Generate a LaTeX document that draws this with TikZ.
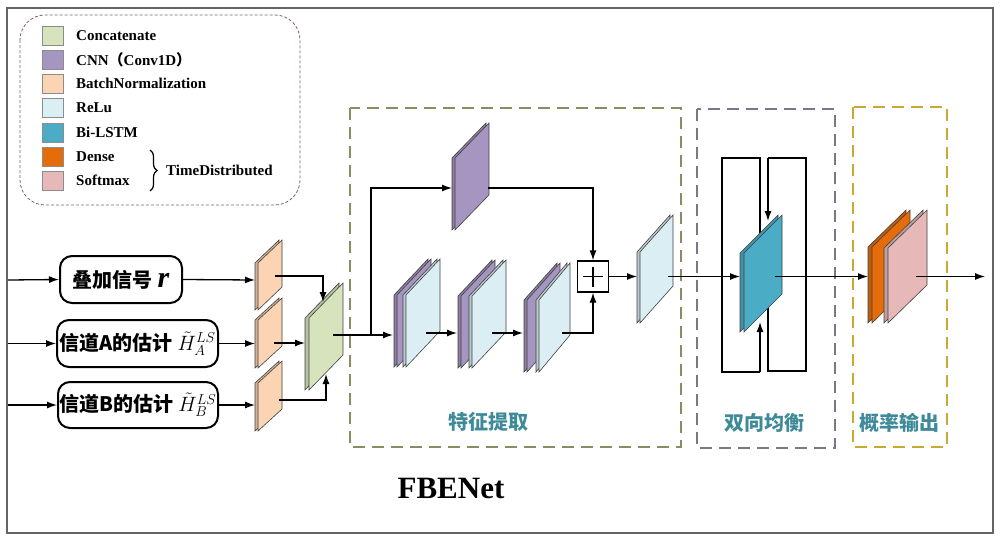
\documentclass[tikz,border=0pt]{standalone}
\usepackage{fontspec}
\setmainfont{Liberation Serif}
\newfontfamily\cjk{Noto Sans CJK SC}
\usetikzlibrary{arrows.meta,decorations.pathreplacing}
\definecolor{cConcat}{RGB}{214,227,188}
\definecolor{cCNN}{RGB}{165,149,192}
\definecolor{cBN}{RGB}{251,212,180}
\definecolor{cRelu}{RGB}{219,238,244}
\definecolor{cLstm}{RGB}{75,172,198}
\definecolor{cDense}{RGB}{228,108,10}
\definecolor{cSoft}{RGB}{230,185,184}
\definecolor{cFrame}{RGB}{100,100,100}
\definecolor{cLegend}{RGB}{130,95,110}
\definecolor{cFeat}{RGB}{140,140,100}
\definecolor{cBi}{RGB}{120,120,140}
\definecolor{cProb}{RGB}{200,170,50}
\definecolor{cLabel}{RGB}{62,138,152}
\newcommand{\plate}[8]{%
  \filldraw[fill=#8!85!black,draw=black!75,line width=0.6pt]
    ({#2-#7},{#3}) -- ({#2-#7+#4},{#3-#6}) -- ({#2-#7+#4},{#3+#5-#6}) -- ({#2-#7},{#3+#5}) -- cycle;
  \filldraw[fill=#8,draw=black!75,line width=0.6pt]
    ({#2},{#3}) -- ({#2+#4},{#3-#6}) -- ({#2+#4},{#3+#5-#6}) -- ({#2},{#3+#5}) -- cycle;
  \coordinate (#1) at ({#2+#4/2},{#3+#5/2-#6/2});
}
\begin{document}
\begin{tikzpicture}[x=1pt,y=-1pt,
  arr/.style={line width=1.3pt,-{Latex[length=10pt,width=7pt]}},
  inbox/.style={draw,line width=2pt,rounded corners=12pt,inner sep=1pt,font=\fontsize{20}{24}\selectfont},
  legsq/.style={draw=black!45,line width=0.6pt,minimum width=21pt,minimum height=19pt,inner sep=0pt},
  legtxt/.style={anchor=west,inner sep=0pt,font=\fontsize{15}{18}\selectfont\bfseries},
  region/.style={dash pattern=on 12pt off 7pt,line width=1.6pt},
  rlabel/.style={text=cLabel,font=\fontsize{20}{24}\selectfont\cjk\bfseries}]
\useasboundingbox (0,0) rectangle (1000,541);
% outer frame
\draw[cFrame,line width=2pt] (7,8) rectangle (993,533);
% legend
\draw[cLegend,dash pattern=on 3pt off 2pt,line width=0.8pt,rounded corners=25pt] (20,15) rectangle (300,205);
\node[legsq,fill=cConcat] (l1) at (52.5,35.5) {};
\node[legsq,fill=cCNN] (l2) at (52.5,59.5) {};
\node[legsq,fill=cBN] (l3) at (52.5,83.5) {};
\node[legsq,fill=cRelu] (l4) at (52.5,108) {};
\node[legsq,fill=cLstm] (l5) at (52.5,132.5) {};
\node[legsq,fill=cDense] (l6) at (52.5,156.5) {};
\node[legsq,fill=cSoft] (l7) at (52.5,180.5) {};
\node[legtxt] (t1) at (76,35.5) {Concatenate};
\node[legtxt] (t2) at (76,59.5) {CNN{\cjk （}Conv1D{\cjk ）}};
\node[legtxt] (t3) at (76,83.5) {BatchNormalization};
\node[legtxt] (t4) at (76,108) {ReLu};
\node[legtxt] (t5) at (76,132.5) {Bi-LSTM};
\node[legtxt] (t6) at (76,156.5) {Dense};
\node[legtxt] (t7) at (76,180.5) {Softmax};
\coordinate (brA) at (150,150);
\coordinate (brB) at (150,191);
\draw[line width=1.2pt,decorate,decoration={brace,amplitude=7pt}] (brA) -- (brB);
\node[legtxt] (t8) at (166,170) {TimeDistributed};
% region boxes
\draw[region,cFeat] (350,108) rectangle (681,447);
\draw[region,cBi] (697,109) rectangle (835,448);
\draw[region,cProb] (853,107) rectangle (947,447);
\node[rlabel] (lab1) at (488,422) {特征提取};
\node[rlabel] (lab2) at (764,423) {双向均衡};
\node[rlabel] (lab3) at (899,423) {概率输出};
% input boxes
\node[inbox,minimum width=122pt,minimum height=47pt] (box1) at (121,279.5)
  {{\cjk\bfseries 叠加信号} {\fontsize{30}{30}\selectfont\bfseries\itshape r}};
\node[inbox,minimum width=161pt,minimum height=47pt] (box2) at (137.5,343.5)
  {{\cjk\bfseries 信道A的估计} $\tilde{H}_{A}^{LS}$};
\node[inbox,minimum width=160pt,minimum height=46pt] (box3) at (138,405)
  {{\cjk\bfseries 信道B的估计} $\tilde{H}_{B}^{LS}$};
\coordinate (in1) at (8,280);
\coordinate (in2) at (8,343.5);
\coordinate (in3) at (8,405);
\draw[arr] (in1) -- (box1.west);
\draw[arr] (in2) -- (box2.west);
\draw[arr] (in3) -- (box3.west);
% BN plates
\plate{bn1}{258}{263}{24}{47}{23}{3}{cBN}
\plate{bn2}{258}{320}{24}{48}{22}{3}{cBN}
\plate{bn3}{258}{383}{24}{48}{22}{3}{cBN}
\coordinate (bn1w) at (255,280);
\coordinate (bn2w) at (255,343.5);
\coordinate (bn3w) at (255,405);
\draw[arr] (box1.east) -- (bn1w);
\draw[arr] (box2.east) -- (bn2w);
\draw[arr] (box3.east) -- (bn3w);
% concatenate
\plate{cc}{309}{318}{34}{72}{35}{4}{cConcat}
\coordinate (bn1o) at (275,276);
\coordinate (bn2o) at (274,343);
\coordinate (bn3o) at (279,400);
\coordinate (cct) at (323,302);
\coordinate (ccw) at (305,343);
\coordinate (ccb) at (326,374);
\draw[arr] (bn1o) -| (cct);
\draw[arr] (bn2o) -- (ccw);
\draw[arr] (bn3o) -| (ccb);
% feature extraction plates
\plate{tp}{455}{158}{34}{72}{35}{3}{cCNN}
\plate{g1a}{397}{295}{34}{72}{36}{3}{cCNN}
\plate{g1}{406}{295}{34}{72}{36}{3}{cRelu}
\plate{g2a}{461}{296}{34}{72}{36}{3}{cCNN}
\plate{g2}{472}{296}{34}{72}{36}{3}{cRelu}
\plate{g3a}{527}{300}{33}{72}{37}{3}{cCNN}
\plate{g3}{539}{300}{31}{72}{37}{3}{cRelu}
\node[draw,line width=1.3pt,minimum size=31pt,inner sep=0pt,fill=white] (plus) at (593,276.5) {};
\draw[line width=1.6pt] ([xshift=-10pt]plus.center) -- ([xshift=10pt]plus.center);
\draw[line width=1.6pt] ([yshift=-10pt]plus.center) -- ([yshift=10pt]plus.center);
\plate{lb}{640}{252}{33}{71}{37}{3}{cRelu}
\coordinate (cco) at (333,335);
\coordinate (g1w) at (393,335);
\coordinate (brp) at (371,335);
\coordinate (tpw) at (452,188);
\coordinate (tpo) at (488,188);
\coordinate (g1o) at (426,333);
\coordinate (g2w) at (457,333);
\coordinate (g2o) at (492,333);
\coordinate (g3w) at (523,333);
\coordinate (g3o) at (562,333);
\coordinate (lbw) at (637,276.5);
\draw[arr] (cco) -- (g1w);
\draw[arr] (brp) |- (tpw);
\draw[arr] (tpo) -| (plus.north);
\draw[arr] (g1o) -- (g2w);
\draw[arr] (g2o) -- (g3w);
\draw[arr] (g3o) -| (plus.south);
\draw[arr] (plus.east) -- (lbw);
% Bi-LSTM loops (behind)
\coordinate (lt) at (760,236);
\coordinate (l1c) at (760,158);
\coordinate (l2c) at (722,158);
\coordinate (l3c) at (722,372);
\coordinate (l4c) at (760,372);
\coordinate (lb2) at (760,322);
\coordinate (rb) at (768,307);
\coordinate (r1c) at (768,371);
\coordinate (r2c) at (806,371);
\coordinate (r3c) at (806,158);
\coordinate (r4c) at (768,158);
\coordinate (rt) at (768,221);
\draw[line width=1.2pt] (lt) -- (l1c) -- (l2c) -- (l3c) -- (l4c);
\draw[arr,line width=1.2pt] (l4c) -- (lb2);
\draw[line width=1.2pt] (rb) -- (r1c) -- (r2c) -- (r3c) -- (r4c);
\draw[arr,line width=1.2pt] (r4c) -- (rt);
\coordinate (lbo) at (668,276.5);
\coordinate (blw) at (740,276.5);
\draw[arr] (lbo) -- (blw);
\plate{bl}{744}{253}{38}{79}{38}{4}{cLstm}
% output
\plate{dn}{872}{247}{38}{76}{37}{4}{cDense}
\plate{sm}{888}{248}{39}{75}{38}{4}{cSoft}
\coordinate (blo) at (775,276.5);
\coordinate (dnw) at (868,276.5);
\coordinate (smo) at (916,276.5);
\coordinate (outp) at (985,276.5);
\draw[arr] (blo) -- (dnw);
\draw[arr] (smo) -- (outp);
% title
\node[font=\fontsize{31}{36}\selectfont\bfseries] (title) at (451,488) {FBENet};
\end{tikzpicture}
\end{document}
